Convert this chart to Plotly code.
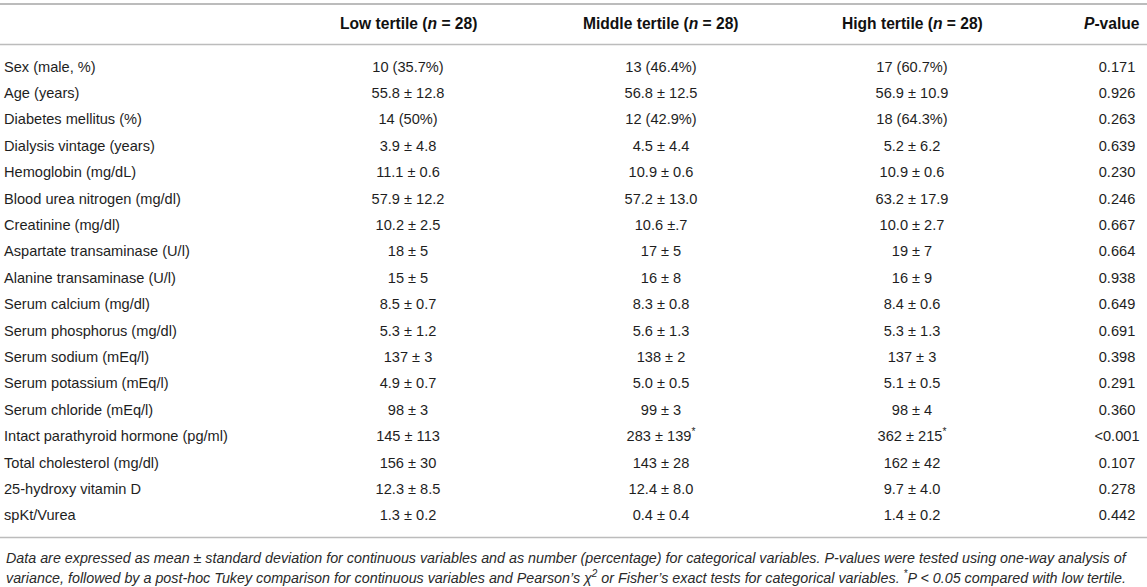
import plotly.graph_objects as go

# table contents
labels = [
    "Sex (male, %)", "Age (years)", "Diabetes mellitus (%)", "Dialysis vintage (years)",
    "Hemoglobin (mg/dL)", "Blood urea nitrogen (mg/dl)", "Creatinine (mg/dl)",
    "Aspartate transaminase (U/l)", "Alanine transaminase (U/l)", "Serum calcium (mg/dl)",
    "Serum phosphorus (mg/dl)", "Serum sodium (mEq/l)", "Serum potassium (mEq/l)",
    "Serum chloride (mEq/l)", "Intact parathyroid hormone (pg/ml)", "Total cholesterol (mg/dl)",
    "25-hydroxy vitamin D", "spKt/Vurea",
]
low_tertile = [
    "10 (35.7%)", "55.8 ± 12.8", "14 (50%)", "3.9 ± 4.8", "11.1 ± 0.6", "57.9 ± 12.2",
    "10.2 ± 2.5", "18 ± 5", "15 ± 5", "8.5 ± 0.7", "5.3 ± 1.2", "137 ± 3", "4.9 ± 0.7",
    "98 ± 3", "145 ± 113", "156 ± 30", "12.3 ± 8.5", "1.3 ± 0.2",
]
middle_tertile = [
    "13 (46.4%)", "56.8 ± 12.5", "12 (42.9%)", "4.5 ± 4.4", "10.9 ± 0.6", "57.2 ± 13.0",
    "10.6 ±.7", "17 ± 5", "16 ± 8", "8.3 ± 0.8", "5.6 ± 1.3", "138 ± 2", "5.0 ± 0.5",
    "99 ± 3", "283 ± 139<sup>*</sup>", "143 ± 28", "12.4 ± 8.0", "0.4 ± 0.4",
]
high_tertile = [
    "17 (60.7%)", "56.9 ± 10.9", "18 (64.3%)", "5.2 ± 6.2", "10.9 ± 0.6", "63.2 ± 17.9",
    "10.0 ± 2.7", "19 ± 7", "16 ± 9", "8.4 ± 0.6", "5.3 ± 1.3", "137 ± 3", "5.1 ± 0.5",
    "98 ± 4", "362 ± 215<sup>*</sup>", "162 ± 42", "9.7 ± 4.0", "1.4 ± 0.2",
]
p_values = [
    "0.171", "0.926", "0.263", "0.639", "0.230", "0.246", "0.667", "0.664", "0.938",
    "0.649", "0.691", "0.398", "0.291", "0.360", "&lt;0.001", "0.107", "0.278", "0.442",
]
headers = [
    "<b>Low tertile (<i>n</i> = 28)</b>",
    "<b>Middle tertile (<i>n</i> = 28)</b>",
    "<b>High tertile (<i>n</i> = 28)</b>",
    "<b><i>P</i>-value</b>",
]
footnote = [
    "Data are expressed as mean ± standard deviation for continuous variables and as number "
    "(percentage) for categorical variables. <i>P</i>-values were tested using one-way analysis of",
    "variance, followed by a post-hoc Tukey comparison for continuous variables and Pearson’s "
    "χ<sup>2</sup> or Fisher’s exact tests for categorical variables. <sup>*</sup>P &lt; 0.05 "
    "compared with low tertile.",
]

W, H = 1147, 587
FONT = "Liberation Sans, Arial, sans-serif"
TXT = "#1e1e1e"
RULE = "#bcbcbc"

# layout in pixels
first_row, row_step = 68, 26.4
col_x = [408, 661, 912, 1117]
header_x = [408, 661, 912]
header_px = 23

rows = list(range(len(labels)))
# y axis in row units, reversed, spanning the whole figure
y_top = -first_row / row_step
y_bot = y_top + H / row_step


def px_to_y(p):
    return y_top + p / row_step


fig = go.Figure()

fig.add_trace(go.Scatter(
    x=[4] * len(labels), y=rows, text=labels, mode="text",
    textposition="middle right", textfont=dict(family=FONT, size=14.6, color=TXT),
    hoverinfo="skip", showlegend=False))

for cx, col in zip(col_x, [low_tertile, middle_tertile, high_tertile, p_values]):
    fig.add_trace(go.Scatter(
        x=[cx] * len(col), y=rows, text=col, mode="text",
        textposition="middle center", textfont=dict(family=FONT, size=14.6, color=TXT),
        hoverinfo="skip", showlegend=False))

for cx, h in zip(header_x, headers[:3]):
    fig.add_annotation(x=cx, y=px_to_y(header_px), text=h, showarrow=False,
                       xanchor="center", yanchor="middle",
                       font=dict(family=FONT, size=15.6, color="#111111"))
# last header sits flush with the right edge
fig.add_annotation(x=1142, y=px_to_y(header_px), text=headers[3], showarrow=False,
                   xanchor="right", yanchor="middle",
                   font=dict(family=FONT, size=15.6, color="#111111"))

# horizontal rules
for p, w in [(4, 2), (44.5, 1.5), (537.5, 1.5)]:
    fig.add_shape(type="line", xref="x", yref="y", x0=0, x1=W,
                  y0=px_to_y(p), y1=px_to_y(p), line=dict(color=RULE, width=w))

for p, line in zip([558, 577], footnote):
    fig.add_annotation(x=4, y=px_to_y(p), text="<i>" + line + "</i>", showarrow=False,
                       xanchor="left", yanchor="middle",
                       font=dict(family=FONT, size=14.3, color="#2a2a2a"))

fig.update_xaxes(range=[0, W], visible=False, fixedrange=True)
fig.update_yaxes(range=[y_bot, y_top], visible=False, fixedrange=True)
fig.update_layout(
    width=W, height=H,
    margin=dict(l=0, r=0, t=0, b=0),
    plot_bgcolor="white", paper_bgcolor="white",
)

fig.write_html("out.html", config={"displayModeBar": False},
               post_script="document.body.style.margin='0';document.body.style.overflow='hidden';")
